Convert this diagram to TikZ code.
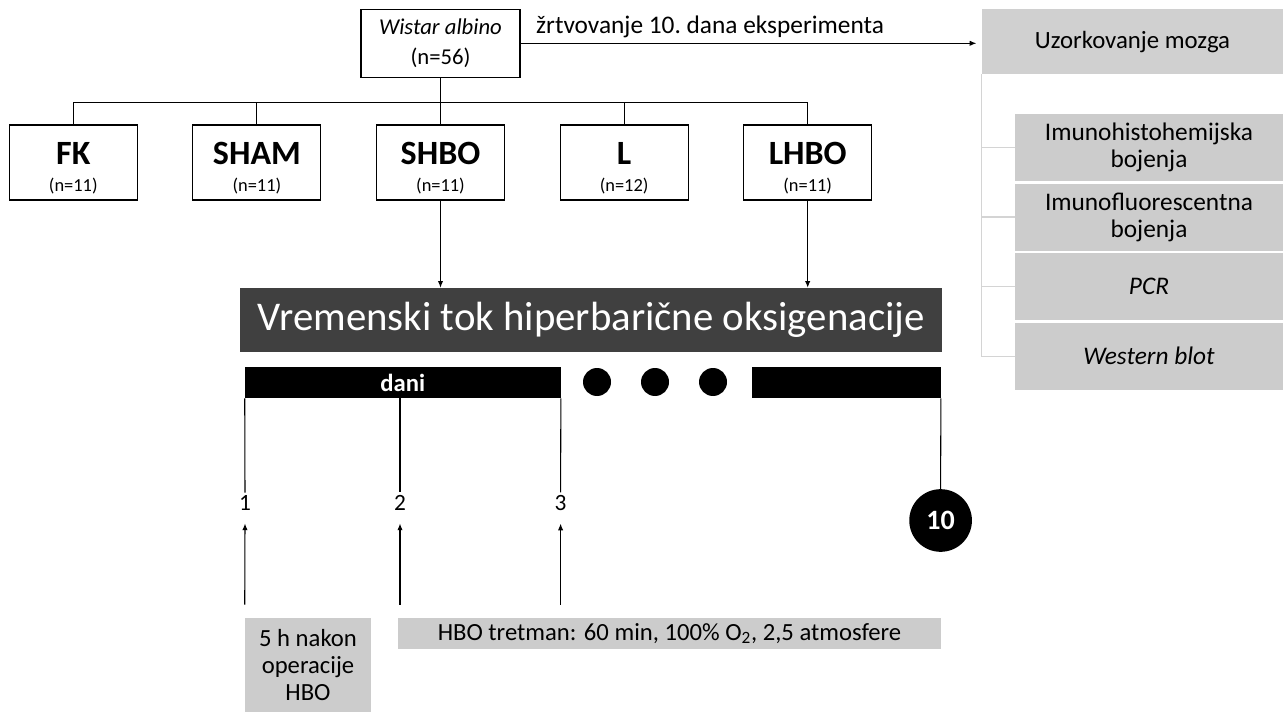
\documentclass[tikz,border=0pt]{standalone}
\usepackage{fontspec}
\setmainfont{Carlito}
\usepackage{tikz}
\usetikzlibrary{trees}
\usetikzlibrary{positioning,arrows.meta}
\definecolor{boxgray}{HTML}{CCCCCC}
\definecolor{headgray}{HTML}{D0D0D0}
\definecolor{bargray}{HTML}{404040}
\definecolor{linegray}{HTML}{D4D4D4}
\newcommand{\groupname}[2]{{\fontsize{25.5}{20}\selectfont\bfseries #1}\\(n=#2)}
\tikzset{
  every node/.style={
    font=\fontsize{17.5}{20}\selectfont
  },
  arrow/.style={
    -{Latex[length=5pt,width=4pt]},
    line width=0.8pt
  },
  rats/.style={
    shape=rectangle,
    draw,
    line width=0.8pt,
    minimum width=119.25pt,
    minimum height=51pt,
    align=center,
    font=\fontsize{17}{22.5}\selectfont
  },
  group/.style={
    shape=rectangle,
    draw,
    line width=0.8pt,
    minimum width=96pt,
    minimum height=56.25pt,
    align=center,
    text height=42.8pt,
    text depth=0pt,
    font=\fontsize{13.8}{20}\selectfont
  },
  group tree/.style={
    edge from parent path={
      (\tikzparentnode.south) -- ++(0,-18.5pt) -| (\tikzchildnode.north)
    },
    sibling distance=137.7pt,
    level distance=89.4pt,
    line width=0.8pt
  },
  sample/.style={
    shape=rectangle,
    fill=headgray,
    minimum width=225.75pt,
    minimum height=48.5pt,
    font=\fontsize{18.6}{21}\selectfont
  },
  method/.style={
    shape=rectangle,
    fill=boxgray,
    minimum width=201pt,
    minimum height=50.25pt,
    align=center,
    font=\fontsize{19}{20.3}\selectfont
  },
  bracket/.style={
    draw=linegray,
    line width=0.8pt
  },
  timebar/.style={
    shape=rectangle,
    fill=bargray,
    text=white,
    minimum width=526.5pt,
    minimum height=48pt,
    font=\fontsize{30.6}{34}\selectfont
  },
  daybar/.style={
    shape=rectangle,
    fill=black,
    text=white,
    inner sep=0pt,
    minimum height=23.25pt,
    font=\fontsize{18.5}{20}\selectfont\bfseries
  },
  dot/.style={
    shape=circle,
    fill=black,
    inner sep=0pt,
    minimum size=21pt
  },
  daynum/.style={
    inner sep=2pt
  },
  dayten/.style={
    shape=circle,
    fill=black,
    text=white,
    inner sep=0pt,
    minimum size=47pt,
    font=\fontsize{21}{24}\selectfont\bfseries
  },
  note/.style={
    shape=rectangle,
    fill=boxgray,
    align=center,
    font=\fontsize{18.5}{20.6}\selectfont
  }
}

\begin{document}
\begin{tikzpicture}[x=0.75pt,y=-0.75pt]
  \useasboundingbox (0,0) rectangle (1283,713);

  % groups
  \node (wistar) [rats] at (440.5,43.3) {\textit{Wistar albino}\\(n=56)}
    [group tree]
    child { node (fk) [group] {\groupname{FK}{11}} }
    child { node (sham) [group] {\groupname{SHAM}{11}} }
    child { node (shbo) [group] {\groupname{SHBO}{11}} }
    child { node (l) [group] {\groupname{L}{12}} }
    child { node (lhbo) [group] {\groupname{LHBO}{11}} };

  % brain sampling
  \node (uzork) [sample] at (1132.5,41.7) {Uzorkovanje mozga};
  \draw [arrow, shorten >=4pt] (wistar.east) -- (wistar.east -| uzork.west)
    node [above right, at start, xshift=8pt, font=\fontsize{19}{21}\selectfont]
    {žrtvovanje 10.\ dana eksperimenta};

  \node (imh) [method] at (1149,147.5) {Imunohistohemijska\\bojenja};
  \node (imf) [method, below=1.5pt of imh] {Imunofluorescentna\\bojenja};
  \node (pcr) [method, below=1.5pt of imf] {\textit{PCR}};
  \node (wb) [method, below=1.5pt of pcr] {\textit{Western blot}};
  \draw [bracket] (uzork.south west) |- (wb.west);
  \foreach \m in {imh,imf,pcr}
    \draw [bracket] (uzork.south west |- \m.west) -- (\m.west);

  % time course
  \node (hbobar) [timebar] at (591,320) {Vremenski tok hiperbarične oksigenacije};
  \draw [arrow] (shbo) -- (shbo |- hbobar.north);
  \draw [arrow] (lhbo) -- (lhbo |- hbobar.north);

  \node (days) [daybar, minimum width=236.7pt] at (402.8,382.5) {dani};
  \node (lastdays) [daybar, minimum width=141.5pt] at (846.3,382.5) {};
  \foreach \x [count=\i] in {597,655,713}
    \node (dot\i) [dot] at (\x,382) {};

  \node (d1) [daynum] at (245,503) {1};
  \node (d2) [daynum] at (400,503) {2};
  \node (d3) [daynum] at (560.6,503) {3};
  \node (d10) [dayten] at (940.6,520.5) {10};
  \draw [line width=0.8pt] (days.south west) -- (d1.north);
  \draw [line width=0.8pt] (d2 |- days.south) -- (d2.north);
  \draw [line width=0.8pt] (days.south east) -- (d3.north);
  \draw [line width=0.8pt] (lastdays.south east) -- (d10.north);

  % treatment
  \node (first) [note, minimum width=94.5pt, minimum height=70.5pt] at (308,665)
    {5 h nakon\\operacije\\HBO};
  \node (treat) [note, minimum width=406.6pt, minimum height=23.25pt] at (669.5,633.5)
    {HBO tretman: 60 min, 100\% O\textsubscript{2}, 2,5 atmosfere};
  \draw [arrow] ([yshift=9.75pt]first.north west) -- ([yshift=-7.5pt]d1.south);
  \draw [arrow] ([yshift=9.75pt]d2 |- treat.north) -- ([yshift=-7.5pt]d2.south);
  \draw [arrow] ([yshift=9.75pt]d3 |- treat.north) -- ([yshift=-7.5pt]d3.south);
\end{tikzpicture}
\end{document}
